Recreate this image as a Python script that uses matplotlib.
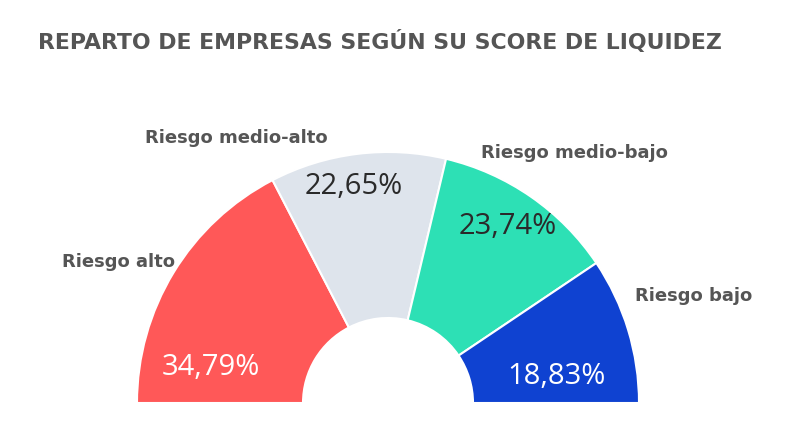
import matplotlib.pyplot as plt

categories = ["Riesgo alto", "Riesgo medio-alto", "Riesgo medio-bajo", "Riesgo bajo"]
shares = [34.79, 22.65, 23.74, 18.83]
pct_labels = ["34,79%", "22,65%", "23,74%", "18,83%"]
colors = ["#FF5858", "#DEE4EC", "#2DE0B5", "#0F42D1"]

fig = plt.figure(figsize=(8, 4.36), dpi=100)
ax = fig.add_axes([0, 0, 1, 1])

cx, cy = 388, 436 - 403
vals = shares + [sum(shares)]
wedges, _ = ax.pie(vals, colors=colors + ["none"], startangle=180, counterclock=False,
                   radius=251, center=(cx, cy), frame=True,
                   wedgeprops=dict(width=251 - 85, edgecolor='white', linewidth=1.5))
wedges[-1].set_visible(False)
ax.set_xlim(0, 800)
ax.set_ylim(0, 436)
ax.set_aspect('equal')
ax.axis('off')

# percent labels (pixel positions, y from top)
pct_pos = [(211, 367), (354, 186), (508, 227), (557, 376)]
pct_col = ["white", "#2a2a2a", "#2a2a2a", "white"]
for t, (x, y), c in zip(pct_labels, pct_pos, pct_col):
    ax.text(x, 436 - y, t, fontsize=21, color=c, ha='center', va='center',
            family='Open Sans')

cat_pos = [(118, 262), (236, 138), (574, 153), (694, 296)]
for t, (x, y) in zip(categories, cat_pos):
    ax.text(x, 436 - y, t, fontsize=13, color='#555555', fontweight='bold',
            ha='center', va='center')

ax.text(38, 436 - 42, "REPARTO DE EMPRESAS SEGÚN SU SCORE DE LIQUIDEZ", fontsize=15.8,
        color='#555555', fontweight='bold', ha='left', va='center')

fig.savefig('out.png', dpi=100)
